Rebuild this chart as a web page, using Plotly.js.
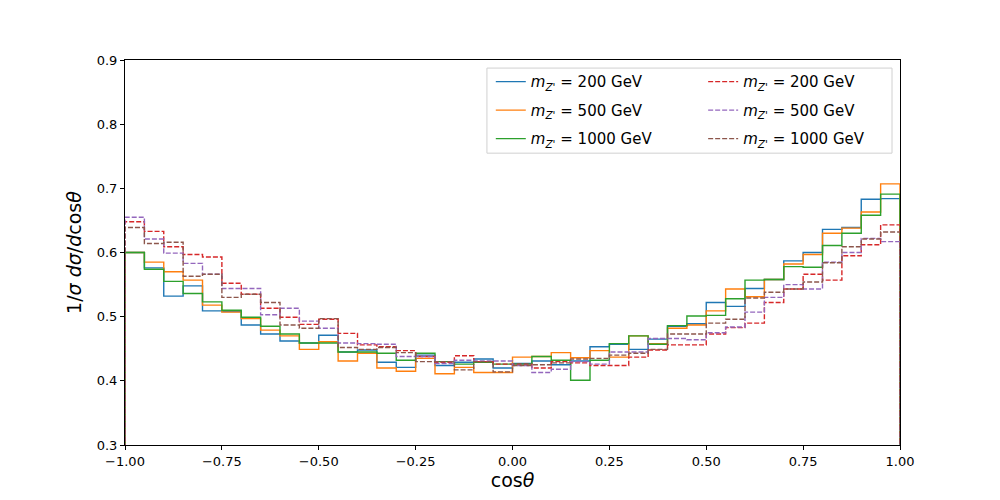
<!DOCTYPE html>
<html>
<head>
<meta charset="utf-8">
<script src="https://cdn.plot.ly/plotly-3.0.1.min.js"></script>
<style>
  body { margin: 0; background: #fff; }
  #plot { width: 1000px; height: 500px; }
</style>
</head>
<body>
<div id="plot"></div>
<script>
// 40 bins of cos(theta) between -1 and 1
let n_bins = 40
let bin_edges = []
for (let i = 0; i <= n_bins; i++) bin_edges.push(-1 + 2 * i / n_bins)

// Solid: one set of samples
let solid_200 = [0.600, 0.576, 0.532, 0.548, 0.509, 0.508, 0.487, 0.473, 0.462, 0.459,
                 0.471, 0.445, 0.448, 0.429, 0.421, 0.440, 0.424, 0.429, 0.434, 0.420,
                 0.427, 0.431, 0.425, 0.431, 0.453, 0.457, 0.449, 0.465, 0.485, 0.489,
                 0.522, 0.516, 0.544, 0.558, 0.587, 0.600, 0.636, 0.639, 0.683, 0.684]
let solid_500 = [0.600, 0.585, 0.570, 0.557, 0.518, 0.507, 0.497, 0.479, 0.470, 0.449,
                 0.461, 0.431, 0.443, 0.420, 0.415, 0.435, 0.411, 0.421, 0.413, 0.413,
                 0.437, 0.438, 0.444, 0.436, 0.447, 0.437, 0.470, 0.458, 0.482, 0.487,
                 0.509, 0.543, 0.531, 0.558, 0.582, 0.597, 0.630, 0.638, 0.663, 0.707]
let solid_1000 = [0.600, 0.574, 0.555, 0.536, 0.523, 0.510, 0.499, 0.485, 0.473, 0.459,
                  0.459, 0.445, 0.445, 0.443, 0.432, 0.443, 0.430, 0.426, 0.429, 0.426,
                  0.426, 0.438, 0.432, 0.401, 0.432, 0.458, 0.470, 0.457, 0.486, 0.501,
                  0.502, 0.528, 0.557, 0.558, 0.578, 0.577, 0.611, 0.630, 0.658, 0.691]

// Dashed: the other set
let dashed_200 = [0.648, 0.633, 0.609, 0.597, 0.593, 0.552, 0.535, 0.513, 0.499, 0.488,
                  0.496, 0.474, 0.456, 0.453, 0.447, 0.438, 0.429, 0.439, 0.430, 0.426,
                  0.426, 0.420, 0.430, 0.428, 0.424, 0.424, 0.437, 0.448, 0.456, 0.456,
                  0.473, 0.483, 0.490, 0.522, 0.543, 0.566, 0.557, 0.595, 0.612, 0.643]
let dashed_500 = [0.655, 0.621, 0.599, 0.583, 0.566, 0.544, 0.544, 0.503, 0.513, 0.493,
                  0.482, 0.459, 0.458, 0.457, 0.438, 0.438, 0.427, 0.432, 0.431, 0.431,
                  0.424, 0.413, 0.418, 0.430, 0.426, 0.445, 0.445, 0.466, 0.466, 0.464,
                  0.475, 0.484, 0.507, 0.530, 0.550, 0.543, 0.585, 0.600, 0.622, 0.617]
let dashed_1000 = [0.639, 0.614, 0.616, 0.563, 0.566, 0.530, 0.535, 0.522, 0.487, 0.482,
                   0.497, 0.452, 0.449, 0.452, 0.444, 0.430, 0.430, 0.417, 0.430, 0.414,
                   0.424, 0.425, 0.428, 0.434, 0.435, 0.440, 0.443, 0.449, 0.473, 0.473,
                   0.490, 0.496, 0.529, 0.538, 0.543, 0.554, 0.584, 0.609, 0.621, 0.632]

let masses = ['200', '500', '1000']
let tick_x = [-1, -0.75, -0.5, -0.25, 0, 0.25, 0.5, 0.75, 1]
let tick_y = [0.3, 0.4, 0.5, 0.6, 0.7, 0.8, 0.9]

// matplotlib histtype='step' outline: up from 0 at the first edge, down to 0 at the last
function step_trace(values, name, color, dash, legend_id) {
  let x = [bin_edges[0]].concat(bin_edges.slice(0, n_bins), [bin_edges[n_bins], bin_edges[n_bins]])
  let y = [0].concat(values, [values[n_bins - 1], 0])
  return {
    x : x, y : y,
    type : 'scatter', mode : 'lines',
    line : {shape : 'hv', color : color, width : 1.4, dash : dash},
    name : '<i>m</i><sub><i>Z\'</i></sub> = ' + name + ' GeV',
    legend : legend_id,
    legendgroup : legend_id + name,
    hoverinfo : 'skip'
  }
}

let data = [
  step_trace(solid_200, masses[0], '#1f77b4', 'solid', 'legend'),
  step_trace(solid_500, masses[1], '#ff7f0e', 'solid', 'legend'),
  step_trace(solid_1000, masses[2], '#2ca02c', 'solid', 'legend'),
  step_trace(dashed_200, masses[0], '#d62728', '5px,2px', 'legend2'),
  step_trace(dashed_500, masses[1], '#9467bd', '5px,2px', 'legend2'),
  step_trace(dashed_1000, masses[2], '#8c564b', '5px,2px', 'legend2'),
]

let axis_common = {
  showline : true, linecolor : '#000', linewidth : 1, mirror : true,
  ticks : 'outside', ticklen : 4, tickwidth : 1, tickcolor : '#000',
  showgrid : false, zeroline : false,
  tickfont : {family : 'DejaVu Sans', size : 13, color : '#000'},
}

let legend_common = {
  orientation : 'v', traceorder : 'grouped', tracegroupgap : 6,
  y : 0.986, yanchor : 'top', xanchor : 'left',
  bgcolor : 'rgba(0,0,0,0)', borderwidth : 0,
  font : {family : 'DejaVu Sans', size : 15, color : '#000'},
  itemwidth : 30
}

let layout = {
  width : 1000, height : 500,
  margin : {l : 125, r : 100, t : 60, b : 55},
  paper_bgcolor : '#fff', plot_bgcolor : '#fff',
  font : {family : 'DejaVu Sans', color : '#000'},
  xaxis : Object.assign({}, axis_common, {
    range : [-1, 1], tickvals : tick_x, tickformat : '.2f',
    title : {text : 'cos<i>θ</i>', font : {size : 19}, standoff : 6}
  }),
  yaxis : Object.assign({}, axis_common, {
    range : [0.3, 0.9], tickvals : tick_y, tickformat : '.1f',
    title : {text : '1/<i>σ</i> <i>dσ</i>/<i>d</i>cos<i>θ</i>', font : {size : 19}, standoff : 10}
  }),
  showlegend : true,
  legend : Object.assign({}, legend_common, {x : 0.472}),
  legend2 : Object.assign({}, legend_common, {x : 0.746}),
  // frame shared by both legend columns
  shapes : [{
    type : 'rect', xref : 'paper', yref : 'paper',
    x0 : 0.467, x1 : 0.9897, y0 : 0.758, y1 : 0.979,
    line : {color : '#d0d0d0', width : 1},
    fillcolor : 'rgba(255,255,255,0.8)', layer : 'above'
  }]
}

Plotly.newPlot('plot', data, layout, {staticPlot : true})
</script>
</body>
</html>
